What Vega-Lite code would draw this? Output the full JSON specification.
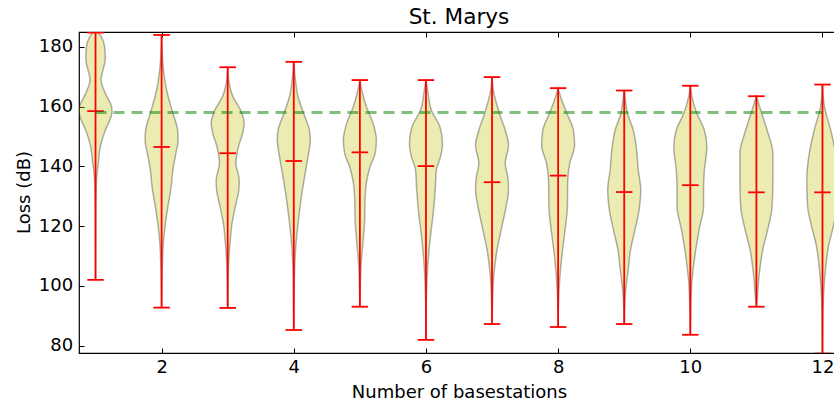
{
  "$schema": "https://vega.github.io/schema/vega-lite/v6.json",
  "width": 760,
  "height": 321,
  "autosize": {"type": "none"},
  "padding": {"left": 79, "top": 32, "right": 0, "bottom": 49},
  "background": "white",
  "title": {"text": "St. Marys", "fontSize": 21.6, "font": "DejaVu Sans", "fontWeight": "normal", "color": "black", "baseline": "alphabetic", "offset": 6.3, "dy": 20.7, "anchor": "middle"},
  "config": {
    "font": "DejaVu Sans",
    "view": {"stroke": "black", "strokeWidth": 1.2},
    "axis": {"domain": false, "grid": false, "tickColor": "black", "tickWidth": 1, "tickSize": -5, "labelColor": "black", "titleColor": "black", "labelFontSize": 18, "titleFontSize": 18, "titleFontWeight": "normal", "labelFont": "DejaVu Sans", "titleFont": "DejaVu Sans"}
  },
  "datasets": {
    "violins": [
      {"n":1,"loss":186,"d":0.05},{"n":1,"loss":185,"d":0.15},{"n":1,"loss":183.3,"d":0.36},{"n":1,"loss":180,"d":0.55},{"n":1,"loss":176,"d":0.59},{"n":1,"loss":172.2,"d":0.45},{"n":1,"loss":169,"d":0.33},{"n":1,"loss":164.4,"d":0.6},{"n":1,"loss":160,"d":0.97},{"n":1,"loss":158.3,"d":1.0},{"n":1,"loss":156.6,"d":0.94},{"n":1,"loss":152.1,"d":0.59},{"n":1,"loss":146.6,"d":0.29},{"n":1,"loss":141,"d":0.17},{"n":1,"loss":136.5,"d":0.07},{"n":1,"loss":130,"d":0.03},{"n":1,"loss":120,"d":0.01},{"n":1,"loss":102,"d":0},
      {"n":2,"loss":184,"d":0},{"n":2,"loss":180,"d":0.02},{"n":2,"loss":174.4,"d":0.08},{"n":2,"loss":168,"d":0.22},{"n":2,"loss":163.3,"d":0.4},{"n":2,"loss":157.7,"d":0.69},{"n":2,"loss":152.1,"d":0.97},{"n":2,"loss":148.8,"d":1.0},{"n":2,"loss":144.3,"d":0.86},{"n":2,"loss":138.8,"d":0.68},{"n":2,"loss":133.2,"d":0.58},{"n":2,"loss":126.5,"d":0.38},{"n":2,"loss":120.9,"d":0.23},{"n":2,"loss":116.5,"d":0.14},{"n":2,"loss":107.6,"d":0.05},{"n":2,"loss":100,"d":0.02},{"n":2,"loss":92.7,"d":0},
      {"n":3,"loss":173.2,"d":0},{"n":3,"loss":168.9,"d":0.06},{"n":3,"loss":163.3,"d":0.32},{"n":3,"loss":158.8,"d":0.78},{"n":3,"loss":154.4,"d":1.0},{"n":3,"loss":151,"d":0.9},{"n":3,"loss":146.6,"d":0.65},{"n":3,"loss":141,"d":0.5},{"n":3,"loss":135.4,"d":0.7},{"n":3,"loss":132.1,"d":0.67},{"n":3,"loss":126.5,"d":0.46},{"n":3,"loss":120.9,"d":0.26},{"n":3,"loss":114.2,"d":0.14},{"n":3,"loss":107.6,"d":0.06},{"n":3,"loss":100,"d":0.02},{"n":3,"loss":92.6,"d":0},
      {"n":4,"loss":175,"d":0},{"n":4,"loss":168.9,"d":0.1},{"n":4,"loss":163.3,"d":0.26},{"n":4,"loss":157.7,"d":0.6},{"n":4,"loss":152.1,"d":0.95},{"n":4,"loss":148.8,"d":1.0},{"n":4,"loss":143.2,"d":0.86},{"n":4,"loss":137.7,"d":0.69},{"n":4,"loss":129.8,"d":0.46},{"n":4,"loss":122,"d":0.28},{"n":4,"loss":113.1,"d":0.12},{"n":4,"loss":105.3,"d":0.05},{"n":4,"loss":95,"d":0.02},{"n":4,"loss":85.2,"d":0},
      {"n":5,"loss":168.9,"d":0},{"n":5,"loss":165.5,"d":0.12},{"n":5,"loss":159.9,"d":0.4},{"n":5,"loss":154.4,"d":0.8},{"n":5,"loss":148.8,"d":1.0},{"n":5,"loss":144.3,"d":0.92},{"n":5,"loss":139.9,"d":0.62},{"n":5,"loss":135.4,"d":0.42},{"n":5,"loss":129.8,"d":0.32},{"n":5,"loss":120.9,"d":0.28},{"n":5,"loss":114.2,"d":0.18},{"n":5,"loss":107.6,"d":0.08},{"n":5,"loss":100,"d":0.03},{"n":5,"loss":93,"d":0},
      {"n":6,"loss":168.9,"d":0},{"n":6,"loss":165.5,"d":0.1},{"n":6,"loss":158.8,"d":0.33},{"n":6,"loss":153.2,"d":0.85},{"n":6,"loss":147.7,"d":1.0},{"n":6,"loss":143.2,"d":0.88},{"n":6,"loss":138.8,"d":0.63},{"n":6,"loss":132.1,"d":0.56},{"n":6,"loss":124.3,"d":0.44},{"n":6,"loss":116.5,"d":0.27},{"n":6,"loss":107.6,"d":0.12},{"n":6,"loss":98.6,"d":0.04},{"n":6,"loss":90,"d":0.01},{"n":6,"loss":81.9,"d":0},
      {"n":7,"loss":169.9,"d":0},{"n":7,"loss":165.5,"d":0.08},{"n":7,"loss":157.7,"d":0.45},{"n":7,"loss":152.1,"d":0.8},{"n":7,"loss":147.1,"d":1.0},{"n":7,"loss":141,"d":0.8},{"n":7,"loss":136.5,"d":0.95},{"n":7,"loss":132.1,"d":1.0},{"n":7,"loss":126.5,"d":0.85},{"n":7,"loss":118.7,"d":0.55},{"n":7,"loss":112,"d":0.3},{"n":7,"loss":104.2,"d":0.12},{"n":7,"loss":96.4,"d":0.04},{"n":7,"loss":87.2,"d":0},
      {"n":8,"loss":166.2,"d":0},{"n":8,"loss":163.3,"d":0.15},{"n":8,"loss":157.7,"d":0.53},{"n":8,"loss":152.1,"d":0.93},{"n":8,"loss":147.1,"d":1.0},{"n":8,"loss":141,"d":0.7},{"n":8,"loss":135.4,"d":0.58},{"n":8,"loss":126.5,"d":0.56},{"n":8,"loss":118.7,"d":0.42},{"n":8,"loss":109.8,"d":0.22},{"n":8,"loss":100.9,"d":0.08},{"n":8,"loss":93,"d":0.02},{"n":8,"loss":86.2,"d":0},
      {"n":9,"loss":165.4,"d":0},{"n":9,"loss":163.3,"d":0.05},{"n":9,"loss":157.7,"d":0.2},{"n":9,"loss":152.1,"d":0.55},{"n":9,"loss":145.5,"d":0.75},{"n":9,"loss":138.8,"d":0.85},{"n":9,"loss":132.1,"d":1.0},{"n":9,"loss":125.4,"d":0.9},{"n":9,"loss":118.7,"d":0.65},{"n":9,"loss":112,"d":0.38},{"n":9,"loss":105.3,"d":0.24},{"n":9,"loss":98.6,"d":0.09},{"n":9,"loss":92.5,"d":0.03},{"n":9,"loss":87.2,"d":0},
      {"n":10,"loss":167,"d":0},{"n":10,"loss":163.3,"d":0.1},{"n":10,"loss":157.7,"d":0.4},{"n":10,"loss":152.1,"d":0.85},{"n":10,"loss":146.6,"d":1.0},{"n":10,"loss":138.8,"d":0.85},{"n":10,"loss":132.1,"d":0.8},{"n":10,"loss":126.5,"d":0.8},{"n":10,"loss":118.7,"d":0.53},{"n":10,"loss":109.8,"d":0.27},{"n":10,"loss":100.9,"d":0.09},{"n":10,"loss":92,"d":0.03},{"n":10,"loss":83.6,"d":0},
      {"n":11,"loss":163.5,"d":0},{"n":11,"loss":159.9,"d":0.2},{"n":11,"loss":152.1,"d":0.65},{"n":11,"loss":144.3,"d":1.0},{"n":11,"loss":135.4,"d":1.0},{"n":11,"loss":126.5,"d":0.95},{"n":11,"loss":118.7,"d":0.68},{"n":11,"loss":112,"d":0.38},{"n":11,"loss":104.2,"d":0.18},{"n":11,"loss":96.4,"d":0.06},{"n":11,"loss":93,"d":0},
      {"n":12,"loss":167.4,"d":0},{"n":12,"loss":159.9,"d":0.12},{"n":12,"loss":152.1,"d":0.5},{"n":12,"loss":144.3,"d":0.8},{"n":12,"loss":135.4,"d":0.95},{"n":12,"loss":126.5,"d":0.9},{"n":12,"loss":120.9,"d":0.7},{"n":12,"loss":113.1,"d":0.36},{"n":12,"loss":105.3,"d":0.18},{"n":12,"loss":96.4,"d":0.06},{"n":12,"loss":88,"d":0.02},{"n":12,"loss":77,"d":0}
    ],
    "stats": [
      {"n":1,"min":102.0,"max":184.8,"med":158.5},
      {"n":2,"min":92.7,"max":184.0,"med":146.5},
      {"n":3,"min":92.6,"max":173.2,"med":144.4},
      {"n":4,"min":85.2,"max":175.0,"med":141.8},
      {"n":5,"min":93.0,"max":168.9,"med":144.7},
      {"n":6,"min":81.9,"max":168.9,"med":140.1},
      {"n":7,"min":87.2,"max":169.9,"med":134.7},
      {"n":8,"min":86.2,"max":166.2,"med":136.9},
      {"n":9,"min":87.2,"max":165.4,"med":131.4},
      {"n":10,"min":83.6,"max":167.0,"med":133.7},
      {"n":11,"min":93.0,"max":163.5,"med":131.3},
      {"n":12,"min":77.3,"max":167.4,"med":131.3}
    ],
    "ref": [{"from":1,"to":12,"loss":158}]
  },
  "resolve": {"axis": {"x": "independent", "y": "independent"}},
  "layer": [
    {
      "data": {"name": "violins"},
      "transform": [
        {"calculate": "datum.n - 0.25 * datum.d", "as": "lo"},
        {"calculate": "datum.n + 0.25 * datum.d", "as": "hi"}
      ],
      "mark": {"type": "area", "orient": "horizontal", "interpolate": "monotone", "clip": true, "fill": "#bfbf00", "fillOpacity": 0.3, "stroke": "#000000", "strokeOpacity": 0.3, "strokeWidth": 1.5},
      "encoding": {
        "y": {"field": "loss", "type": "quantitative", "scale": {"domain": [77.5, 185], "nice": false, "zero": false},
              "axis": {"orient": "left", "values": [80,100,120,140,160,180], "title": "Loss (dB)", "labelPadding": 11.3, "labelBaseline": "middle", "titleAngle": -90, "titleX": -50, "titleY": 160, "titleAlign": "center", "titleBaseline": "alphabetic"}},
        "x": {"field": "lo", "type": "quantitative", "scale": {"domain": [0.75, 12.25], "nice": false, "zero": false},
              "axis": {"orient": "bottom", "values": [2,4,6,8,10,12], "title": "Number of basestations", "labelPadding": 24.7, "labelBaseline": "alphabetic", "titleX": 380, "titleY": 44.5, "titleAlign": "center", "titleBaseline": "alphabetic"}},
        "x2": {"field": "hi"},
        "detail": {"field": "n", "type": "nominal"}
      }
    },
    {
      "data": {"name": "stats"},
      "mark": {"type": "rule", "clip": true, "color": "#ff0000", "strokeWidth": 1.8},
      "encoding": {
        "x": {"field": "n", "type": "quantitative", "axis": {"orient": "top", "values": [2,4,6,8,10,12], "labels": false, "title": null}},
        "y": {"field": "min", "type": "quantitative", "axis": {"orient": "right", "values": [80,100,120,140,160,180], "labels": false, "title": null}},
        "y2": {"field": "max"}
      }
    },
    {
      "data": {"name": "stats"},
      "transform": [{"fold": ["min", "max", "med"], "as": ["stat", "val"]}],
      "mark": {"type": "tick", "orient": "horizontal", "clip": true, "color": "#ff0000", "size": 16.5, "thickness": 1.8, "opacity": 1},
      "encoding": {
        "x": {"field": "n", "type": "quantitative", "axis": null},
        "y": {"field": "val", "type": "quantitative", "axis": null}
      }
    },
    {
      "data": {"name": "ref"},
      "mark": {"type": "rule", "color": "#008000", "opacity": 0.5, "strokeWidth": 3, "strokeDash": [11, 7]},
      "encoding": {
        "x": {"field": "from", "type": "quantitative", "axis": null},
        "x2": {"field": "to"},
        "y": {"field": "loss", "type": "quantitative", "axis": null}
      }
    }
  ]
}
